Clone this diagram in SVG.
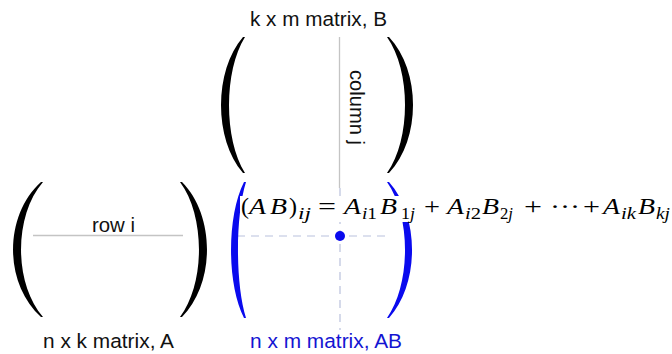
<svg xmlns="http://www.w3.org/2000/svg" width="672" height="354" viewBox="0 0 672 354">
  <style>
    .lbl { font-family: "Liberation Sans", Arial, sans-serif; font-size: 20.5px; fill: #111; }
    .blue { fill: #1414d2; }
    .par { fill: #000; }
    .bpar { fill: #0a0aee; }
    .m { font-family: "Liberation Serif", "Times New Roman", serif; font-size: 24px; fill: #000; }
    .mi { font-family: "Liberation Serif", "Times New Roman", serif; font-size: 23px; font-style: italic; fill: #000; }
    .s { font-family: "Liberation Serif", "Times New Roman", serif; font-size: 16px; font-style: italic; fill: #000; }
    .sn { font-style: normal; }
    .solid { stroke: #c4c4c4; stroke-width: 1.3; fill: none; }
    .dash { stroke: #b9c1dd; stroke-width: 1.2; stroke-dasharray: 8 6; fill: none; }
  </style>
  <rect width="672" height="354" fill="#fff"/>

  <g id="connectors">
    <line class="solid" x1="33" y1="235.5" x2="183" y2="235.5"/>
    <line class="solid" x1="339.5" y1="37" x2="339.5" y2="188"/>
    <line class="dash" x1="340" y1="188" x2="340" y2="330"/>
    <line class="dash" x1="237" y1="236" x2="385" y2="236"/>
  </g>

  <g id="matrixA">
    <path class="par" d="M41,182 C3.7,215.8 3.7,283.2 41,317 L43,317 C13.7,283.2 13.7,215.8 43,182 Z"/>
    <path class="par" d="M182,182 C215.3,215.8 215.3,283.2 182,317 L180,317 C205.3,283.2 205.3,215.8 180,182 Z"/>
    <text class="lbl" x="92" y="232" textLength="43" lengthAdjust="spacingAndGlyphs">row i</text>
    <text class="lbl" x="43" y="348" textLength="131" lengthAdjust="spacingAndGlyphs">n x k matrix, A</text>
  </g>

  <g id="matrixB">
    <path class="par" d="M243,37 C213.7,71 213.7,139 243,173 L245,173 C223.7,139 223.7,71 245,37 Z"/>
    <path class="par" d="M389,37 C421,71 421,139 389,173 L387,173 C411,139 411,71 387,37 Z"/>
    <text class="lbl" x="250" y="26" textLength="137" lengthAdjust="spacingAndGlyphs">k x m matrix, B</text>
    <text class="lbl" transform="translate(350,70) rotate(90)" x="0" y="0" textLength="75" lengthAdjust="spacingAndGlyphs">column j</text>
  </g>

  <g id="matrixAB">
    <path class="bpar" d="M244,182 C226.7,216 226.7,284 244,318 L246,318 C235.3,284 235.3,216 246,182 Z"/>
    <path class="bpar" d="M389,182 C419.7,216 419.7,284 389,318 L387,318 C411,284 411,216 387,182 Z"/>
    <circle cx="340" cy="236" r="5" fill="#0a0aee"/>
    <text class="lbl blue" x="250" y="348" textLength="152" lengthAdjust="spacingAndGlyphs">n x m matrix, AB</text>
  </g>

  <g id="formula">
    <rect x="240" y="196" width="432" height="26" fill="#fff"/>
    <text class="m" x="241" y="214">(</text>
    <text class="mi" x="249" y="214" textLength="17" lengthAdjust="spacingAndGlyphs">A</text>
    <text class="mi" x="270" y="214" textLength="17" lengthAdjust="spacingAndGlyphs">B</text>
    <text class="m" x="289" y="214">)</text>
    <text class="s" x="298" y="219" textLength="13" lengthAdjust="spacingAndGlyphs">ij</text>
    <text class="m" x="318" y="214" textLength="18" lengthAdjust="spacingAndGlyphs">=</text>
    <text class="mi" x="344" y="214" textLength="17" lengthAdjust="spacingAndGlyphs">A</text>
    <text class="s" x="362" y="219" textLength="15" lengthAdjust="spacingAndGlyphs">i<tspan class="sn">1</tspan></text>
    <text class="mi" x="380" y="214" textLength="17" lengthAdjust="spacingAndGlyphs">B</text>
    <text class="s" x="401" y="219" textLength="14" lengthAdjust="spacingAndGlyphs"><tspan class="sn">1</tspan>j</text>
    <text class="m" x="424" y="214" textLength="16" lengthAdjust="spacingAndGlyphs">+</text>
    <text class="mi" x="447" y="214" textLength="17" lengthAdjust="spacingAndGlyphs">A</text>
    <text class="s" x="465" y="219" textLength="16" lengthAdjust="spacingAndGlyphs">i<tspan class="sn">2</tspan></text>
    <text class="mi" x="482" y="214" textLength="17" lengthAdjust="spacingAndGlyphs">B</text>
    <text class="s" x="500" y="219" textLength="13" lengthAdjust="spacingAndGlyphs"><tspan class="sn">2</tspan>j</text>
    <text class="m" x="524" y="214" textLength="18" lengthAdjust="spacingAndGlyphs">+</text>
    <text class="m" x="550" y="214" textLength="30" lengthAdjust="spacingAndGlyphs">···</text>
    <text class="m" x="583" y="214" textLength="17" lengthAdjust="spacingAndGlyphs">+</text>
    <text class="mi" x="603" y="214" textLength="17" lengthAdjust="spacingAndGlyphs">A</text>
    <text class="s" x="621" y="219" textLength="15" lengthAdjust="spacingAndGlyphs">ik</text>
    <text class="mi" x="638" y="214" textLength="17" lengthAdjust="spacingAndGlyphs">B</text>
    <text class="s" x="656" y="219" textLength="14" lengthAdjust="spacingAndGlyphs">kj</text>
  </g>
</svg>
